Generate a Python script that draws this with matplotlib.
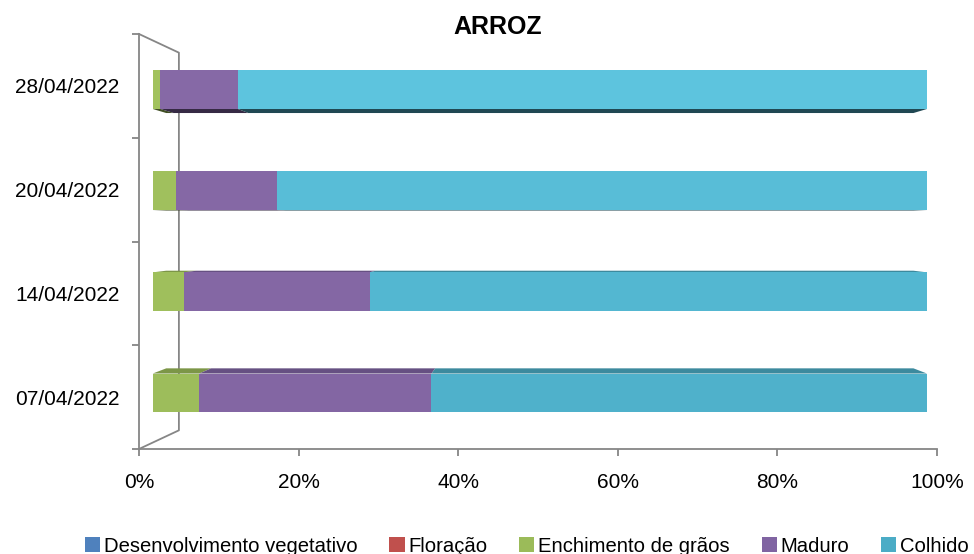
import numpy as np
import matplotlib
matplotlib.use("Agg")
import matplotlib.pyplot as plt
from matplotlib.patches import Patch, Polygon
from matplotlib.colors import to_rgb

plt.rcParams['font.family'] = ['Liberation Sans', 'DejaVu Sans']

# data (percent of area per stage)
dates = ['07/04/2022', '14/04/2022', '20/04/2022', '28/04/2022']
stages = ['Desenvolvimento vegetativo', 'Floração', 'Enchimento de grãos', 'Maduro', 'Colhido']
desenvolvimento = [0, 0, 0, 0]
floracao = [0, 0, 0, 0]
enchimento = [6, 4, 3, 1]
maduro = [30, 24, 13, 10]
colhido = [64, 72, 84, 89]
colors = ['#4F81BD', '#C0504D', '#9BBB59', '#8064A2', '#4BACC6']
x_ticks = [0, 20, 40, 60, 80, 100]

# front-face fill per row (excel lighting makes upper bars lighter)
face_colors = {
    2: ['#9DBD5B', '#9FBF5C', '#A0C05D', '#A2C25E'],
    3: ['#8366A3', '#8467A4', '#8568A5', '#8669A6'],
    4: ['#4FB1CB', '#53B7D1', '#58BDD7', '#5DC4DE'],
}

W, H = 974, 554
fig = plt.figure(figsize=(W / 100, H / 100), dpi=100)

def px_box(x0, y0, x1, y1):
    # pixel box (top-left origin) -> figure fraction rect
    return [x0 / W, (H - y1) / H, (x1 - x0) / W, (y1 - y0) / H]

grey = '#868686'

# main axes: scale, ticks and the 3d wall outline
ax = fig.add_axes(px_box(139, 34, 937, 449))
ax.set_xlim(0, 100)
ax.set_ylim(0, 4)
for s in ['top', 'right']:
    ax.spines[s].set_visible(False)
for s in ['left', 'bottom']:
    ax.spines[s].set_color(grey)
    ax.spines[s].set_linewidth(1.3)
ax.set_xticks(x_ticks)
ax.set_xticklabels([f'{v}%' for v in x_ticks], fontsize=15)
ax.set_yticks(range(5))
ax.set_yticklabels([])
ax.set_yticks([i + 0.5 for i in range(4)], minor=True)
ax.set_yticklabels(dates, minor=True, fontsize=15)
ax.tick_params(axis='y', which='minor', length=0, pad=14)
ax.tick_params(axis='both', which='major', color=grey, width=1.3, length=5)
ax.tick_params(axis='x', pad=12)
ax.patch.set_alpha(0)
# back wall edges
ax.plot([0, 5, 5, 0], [4, 3.82, 0.18, 0], color=grey, lw=1.3, clip_on=False)

# bar axes, aligned with the front faces of the 3d bars
bx = fig.add_axes(px_box(152.7, 38.9, 927, 443.6), zorder=2)
bx.set_xlim(0, 100)
bx.set_ylim(-0.5, 3.5)
bx.axis('off')

series = [desenvolvimento, floracao, enchimento, maduro, colhido]
y = np.arange(len(dates))
bh = 0.385
vx, vy, sc = 50, 1.66, 0.965   # vanishing point / depth scale for the faces

def shade(c, f):
    r, g, b = to_rgb(c)
    return (r * f, g * f, b * f)

left = np.zeros(len(dates))
for k, (vals, c) in enumerate(zip(series, colors)):
    vals = np.array(vals, dtype=float)
    fcs = face_colors.get(k, [c] * len(dates))
    for i in range(len(dates)):
        if vals[i] <= 0:
            continue
        x0, x1 = left[i], left[i] + vals[i]
        yt, yb = y[i] + bh / 2, y[i] - bh / 2
        if yt < vy:
            ye, f = yt, 0.8
        else:
            ye, f = yb, 0.42
        bxp = lambda xx: vx + (xx - vx) * sc
        byp = vy + (ye - vy) * sc
        poly = Polygon([(x0, ye), (x1, ye), (bxp(x1), byp), (bxp(x0), byp)],
                       closed=True, fc=shade(c, f), ec='none', zorder=1)
        bx.add_patch(poly)
    bx.barh(y, vals, left=left, height=bh, color=fcs, edgecolor='none', zorder=2)
    left += vals

fig.text(498 / W, 1 - 27 / H, 'ARROZ', ha='center', va='center',
         fontsize=18, fontweight='bold')

handles = [Patch(facecolor=c, edgecolor='none') for c in colors]
fig.legend(handles, stages, ncol=5, loc='center', bbox_to_anchor=(527 / W, 1 - 546 / H),
           frameon=False, fontsize=14.6, handlelength=0.75, handleheight=0.75,
           handletextpad=0.2, columnspacing=1.55, borderpad=0, borderaxespad=0)

fig.savefig('out.png', dpi=100)
